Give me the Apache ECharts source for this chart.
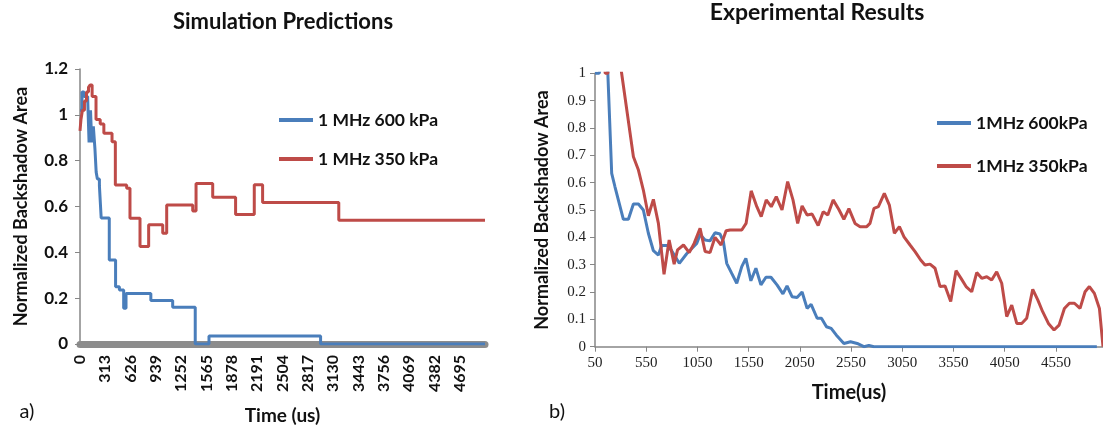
<!DOCTYPE html>
<html><head><meta charset="utf-8">
<script src="https://cdn.jsdelivr.net/npm/echarts@6/dist/echarts.min.js"></script>
<style>html,body{margin:0;padding:0;background:#fff}#c{width:1103px;height:430px}</style>
</head><body><div id="c"></div>
<script>
// ---------- data ----------
const simTickLabels = [0,313,626,939,1252,1565,1878,2191,2504,2817,3130,3443,3756,4069,4382,4695];
const expTickLabels = [50,550,1050,1550,2050,2550,3050,3550,4050,4550];

const simSeriesNames = ['1 MHz 600 kPa','1 MHz 350 kPa'];
const expSeriesNames = ['1MHz 600kPa','1MHz 350kPa'];

// Simulation (step lines): start time of each step and its value
const simBlueT = [0,25,50,95,112,130,145,165,185,200,215,240,262,362,440,487,540,569,876,1146,1425,1595,2975,5008];
const simBlueV = [1.02,1.1,1.08,1.07,0.88,1.02,0.88,0.95,0.85,0.75,0.72,0.69,0.55,0.367,0.25,0.236,0.156,0.22,0.19,0.16,0,0.035,0,0];
const simRedT = [0,12,30,55,80,105,124,150,198,250,295,396,437,577,618,742,849,1023,1072,1394,1435,1641,1924,2155,2258,3200,5008];
const simRedV = [0.93,0.98,1.02,1.06,1.1,1.12,1.13,1.08,0.98,0.96,0.92,0.883,0.694,0.68,0.549,0.425,0.52,0.483,0.607,0.58,0.70,0.64,0.565,0.695,0.617,0.54,0.54];

// Experimental
const expBlueT = [50,90,165,213,245,327,376,425,474,522,571,620,669,701,760,800,873,945,1043,1076,1125,1173,1222,1271,1304,1336,1385,1434,1483,1523,1572,1621,1670,1719,1768,1827,1885,1925,1974,2023,2072,2121,2160,2219,2261,2310,2356,2405,2480,2545,2610,2675,2724,2773,4950];
const expBlueV = [1.0,1.0,1.1,0.634,0.585,0.466,0.466,0.522,0.522,0.5,0.415,0.351,0.335,0.37,0.37,0.35,0.305,0.34,0.378,0.41,0.39,0.387,0.417,0.412,0.384,0.305,0.268,0.232,0.293,0.323,0.241,0.287,0.226,0.254,0.254,0.226,0.193,0.222,0.183,0.18,0.2,0.14,0.155,0.104,0.104,0.073,0.067,0.043,0.012,0.018,0.012,0,0.005,0,0];
const expRedT = [50,120,150,175,240,310,425,474,522,571,620,669,724,774,823,856,914,970,1018,1076,1125,1173,1222,1281,1330,1369,1483,1525,1575,1630,1673,1722,1771,1820,1876,1931,1983,2029,2072,2121,2170,2229,2278,2323,2375,2431,2480,2529,2589,2638,2703,2735,2774,2817,2875,2924,2973,3022,3067,3126,3175,3230,3272,3321,3370,3419,3468,3523,3575,3624,3673,3728,3777,3826,3875,3923,3972,4021,4070,4119,4168,4216,4265,4324,4373,4421,4477,4532,4581,4633,4682,4731,4786,4835,4877,4926,4975,5010];
const expRedV = [1.4,1.1,1.0,1.0,1.2,1.0,0.695,0.646,0.573,0.479,0.539,0.451,0.265,0.39,0.302,0.354,0.372,0.344,0.378,0.433,0.348,0.344,0.4,0.372,0.424,0.427,0.427,0.451,0.57,0.512,0.476,0.537,0.512,0.549,0.5,0.604,0.537,0.451,0.515,0.482,0.485,0.443,0.494,0.482,0.537,0.502,0.466,0.505,0.451,0.439,0.439,0.451,0.506,0.512,0.561,0.518,0.415,0.439,0.402,0.372,0.348,0.317,0.299,0.302,0.287,0.22,0.222,0.165,0.278,0.25,0.22,0.201,0.271,0.25,0.256,0.244,0.274,0.232,0.11,0.152,0.085,0.085,0.104,0.21,0.171,0.128,0.085,0.061,0.079,0.14,0.159,0.159,0.14,0.201,0.22,0.195,0.14,0];

// ---------- styling ----------
const BLUE = '#4a7ebb', RED = '#be4b48', AXIS = '#868686';
const SANS = 'Lato, "Open Sans", sans-serif';
const SERIF = '"Liberation Serif", "DejaVu Serif", serif';
const zip = (t, v) => t.map((x, i) => [x, v[i]]);
const plain = (v) => String(v);

const chart = echarts.init(document.getElementById('c'));

const bold = (size) => ({ fontFamily: SANS, fontWeight: 'bold', fontSize: size, color: '#111' });

function legendFor(name, left, top) {
  return { data: [name], left: left, top: top, padding: 0, icon: 'rect', itemWidth: 34, itemHeight: 4,
    textStyle: bold(17.5), selectedMode: false };
}

const option = {
  animation: false,
  backgroundColor: '#fff',
  grid: [
    { left: 80, top: 69, width: 405, height: 275 },
    { left: 595, top: 73.3, width: 508, height: 273.4 }
  ],
  xAxis: [
    { gridIndex: 0, type: 'value', min: 0, max: 5008, offset: 3,
      axisLine: { show: true, lineStyle: { color: '#8c8c8c', width: 7 } },
      axisTick: { show: false },
      splitLine: { show: false },
      axisLabel: { customValues: simTickLabels, formatter: plain, rotate: 90, margin: 8, ...bold(16) },
      name: 'Time (us)', nameLocation: 'middle', nameGap: 59, nameTextStyle: bold(19) },
    { gridIndex: 1, type: 'value', min: 50, max: 5010,
      axisLine: { show: true, lineStyle: { color: AXIS, width: 1.5 } },
      axisTick: { show: true, customValues: expTickLabels, length: 5, lineStyle: { color: AXIS } },
      splitLine: { show: false },
      axisLabel: { customValues: expTickLabels, formatter: plain, margin: 9, fontFamily: SERIF, fontSize: 15, color: '#222' },
      name: 'Time(us)', nameLocation: 'middle', nameGap: 36, nameTextStyle: bold(20) }
  ],
  yAxis: [
    { gridIndex: 0, type: 'value', min: 0, max: 1.2, interval: 0.2,
      axisLine: { show: true, lineStyle: { color: AXIS, width: 1.5 } },
      axisTick: { show: true, length: 5, lineStyle: { color: AXIS } },
      splitLine: { show: false },
      axisLabel: { margin: 12, formatter: plain, ...bold(17) },
      name: 'Normalized Backshadow Area', nameLocation: 'middle', nameGap: 50, nameTextStyle: bold(18) },
    { gridIndex: 1, type: 'value', min: 0, max: 1, interval: 0.1,
      axisLine: { show: true, lineStyle: { color: AXIS, width: 1.5 } },
      axisTick: { show: true, length: 5, lineStyle: { color: AXIS } },
      splitLine: { show: false },
      axisLabel: { margin: 9, formatter: plain, fontFamily: SERIF, fontSize: 15, color: '#222' },
      name: 'Normalized Backshadow Area', nameLocation: 'middle', nameGap: 44, nameTextStyle: bold(18) }
  ],
  legend: [
    legendFor(simSeriesNames[0], 279, 111),
    legendFor(simSeriesNames[1], 279, 150),
    legendFor(expSeriesNames[0], 937, 114),
    legendFor(expSeriesNames[1], 937, 157)
  ],
  series: [
    { type: 'line', name: simSeriesNames[0], xAxisIndex: 0, yAxisIndex: 0, step: 'end',
      data: zip(simBlueT, simBlueV), symbol: 'none', lineStyle: { color: BLUE, width: 3 }, itemStyle: { color: BLUE } },
    { type: 'line', name: simSeriesNames[1], xAxisIndex: 0, yAxisIndex: 0, step: 'end',
      data: zip(simRedT, simRedV), symbol: 'none', lineStyle: { color: RED, width: 3 }, itemStyle: { color: RED } },
    { type: 'line', name: expSeriesNames[0], xAxisIndex: 1, yAxisIndex: 1, clip: true,
      data: zip(expBlueT, expBlueV), symbol: 'none', lineStyle: { color: BLUE, width: 3 }, itemStyle: { color: BLUE } },
    { type: 'line', name: expSeriesNames[1], xAxisIndex: 1, yAxisIndex: 1, clip: true,
      data: zip(expRedT, expRedV), symbol: 'none', lineStyle: { color: RED, width: 3 }, itemStyle: { color: RED } }
  ],
  graphic: [
    { type: 'text', x: 283, y: 22, style: { text: 'Simulation Predictions', font: 'bold 22px ' + SANS, fill: '#111', textAlign: 'center', textVerticalAlign: 'middle', align: 'center', verticalAlign: 'middle' } },
    { type: 'text', x: 817, y: 13, style: { text: 'Experimental Results', font: 'bold 23px ' + SANS, fill: '#111', textAlign: 'center', textVerticalAlign: 'middle', align: 'center', verticalAlign: 'middle' } },
    { type: 'text', x: 27, y: 412, style: { text: 'a)', font: '20px ' + SANS, fill: '#111', textAlign: 'center', textVerticalAlign: 'middle', align: 'center', verticalAlign: 'middle' } },
    { type: 'text', x: 557, y: 412, style: { text: 'b)', font: '20px ' + SANS, fill: '#111', textAlign: 'center', textVerticalAlign: 'middle', align: 'center', verticalAlign: 'middle' } }
  ]
};
chart.setOption(option);
</script>
</body></html>
